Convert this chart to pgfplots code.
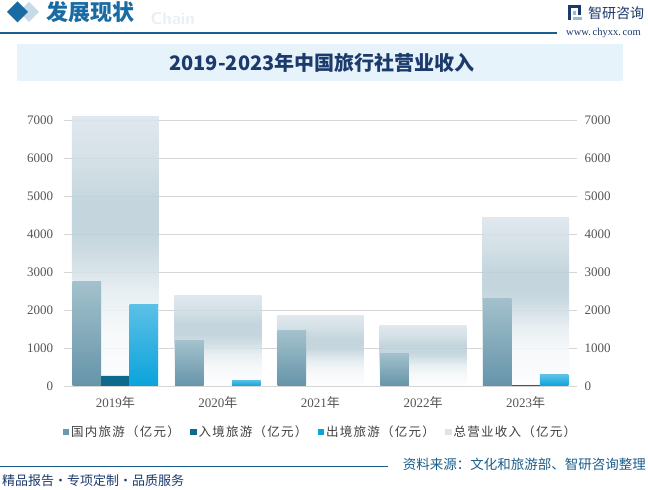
\documentclass[border=0pt]{standalone}
\usepackage{fontspec}
\usepackage{pgfplots}
\pgfplotsset{compat=1.18}
\setmainfont{Liberation Serif}
\newfontfamily\cjk{Noto Sans CJK SC}
\newfontfamily\cjkls{Noto Sans CJK SC}[LetterSpace=10]
\definecolor{navy}{HTML}{1C3A6B}
\definecolor{hdrblue}{HTML}{1A6BA3}
\definecolor{linblue}{HTML}{1B5E8C}
\definecolor{boxblue}{HTML}{E6F3FB}
\definecolor{totT}{HTML}{DCE5EC}
\definecolor{totM}{HTML}{BCD0D9}
\definecolor{domT}{HTML}{A3C1CC}
\definecolor{domB}{HTML}{6594A9}
\definecolor{domL}{HTML}{6A9AB0}
\definecolor{inb}{HTML}{0E6A8C}
\definecolor{outT}{HTML}{5BC0E6}
\definecolor{outB}{HTML}{0AA3DC}
\definecolor{gridc}{HTML}{D6D6D6}
\definecolor{tickc}{HTML}{555555}
\pgfdeclareverticalshading{totshade}{100bp}{color(0bp)=(white); color(25bp)=(white!97!totM); color(35bp)=(white!86!totM); color(42.5bp)=(white!62!totM); color(47.5bp)=(white!30!totM); color(51bp)=(white!10!totM); color(54bp)=(totM); color(59bp)=(totM); color(66bp)=(white!25!totM); color(75bp)=(totT); color(100bp)=(totT)}
\pgfplotsset{
  totbar/.style={ybar, forget plot, bar width=87pt, bar shift=0pt, draw=none, shading=totshade, fill opacity=0.88},
  dombar/.style={ybar, forget plot, bar width=28.5pt, bar shift=-28.5pt, draw=none, top color=domT, bottom color=domB},
  inbar/.style={ybar, forget plot, bar width=28.5pt, bar shift=0pt, draw=none, fill=inb},
  outbar/.style={ybar, forget plot, bar width=28.5pt, bar shift=28.5pt, draw=none, top color=outT, bottom color=outB},
}
\begin{document}
\begin{tikzpicture}[x=1pt,y=1pt]
\path[use as bounding box] (0,0) rectangle (648,490);
\fill[white] (0,0) rectangle (648,490);
% header
\fill[hdrblue!25] (29,488) -- (39,478) -- (29,468) -- (19,478) -- cycle;
\fill[hdrblue] (17.5,488.5) -- (28,478) -- (17.5,467.5) -- (7,478) -- cycle;
\node[anchor=base west, text=hdrblue!10, font=\sffamily\bfseries\fontsize{17}{17}\selectfont] at (147,465) {Chain};
\node[anchor=west, inner sep=0, text=hdrblue, font=\cjk\bfseries\fontsize{22}{22}\selectfont] at (46,478) {发展现状};
\draw[linblue, line width=1.2pt] (0,457) -- (557,457);
% logo
\fill[navy] (568,470) rectangle (571,485);
\fill[navy] (568,482) rectangle (581,485);
\fill[navy] (578,475) rectangle (581,485);
\fill[hdrblue!45] (573,470) rectangle (582,473);
\fill[hdrblue!45] (573,475) rectangle (576,479);
\node[anchor=west, inner sep=0, text=navy, font=\cjk\fontsize{14}{14}\selectfont] at (588,477) {智研咨询};
\node[anchor=west, inner sep=0, text=navy, font=\fontsize{10.5}{11}\selectfont] at (566,457) {www.\,chyxx.\,com};
% title box
\fill[boxblue] (17,409) rectangle (623,446);
\node[text=navy, inner sep=0, font=\cjk\bfseries\fontsize{20}{20}\selectfont] at (322,427.5) {2019-2023年中国旅行社营业收入};
% footer
\draw[linblue, line width=1pt] (0,23) -- (388,23);
\node[anchor=east, inner sep=0, text=linblue, font=\cjk\fontsize{13.5}{14}\selectfont] at (646,26) {资料来源：文化和旅游部、智研咨询整理};
\node[anchor=west, inner sep=0, text=navy, font=\cjk\fontsize{13}{13}\selectfont] at (2,9) {精品报告·专项定制·品质服务};
% main axis
\begin{axis}[
  at={(64pt,104pt)}, anchor=south west, scale only axis,
  width=513pt, height=277.1pt,
  xmin=-0.5, xmax=4.5, ymin=0, ymax=7300,
  axis y line*=left, axis x line*=bottom,
  y axis line style={draw=none},
  x axis line style={gridc, line width=0.9pt},
  ytick={0,1000,...,7000}, ytick style={draw=none},
  xtick={0,1,2,3,4}, xtick style={draw=none},
  minor xtick={-0.5,0.5,1.5,2.5,3.5,4.5},
  minor tick length=5pt, tick align=outside,
  minor x tick style={gridc, line width=0.9pt},
  xticklabels={{2019\cjk 年},{2020\cjk 年},{2021\cjk 年},{2022\cjk 年},{2023\cjk 年}},
  ymajorgrids, grid style={gridc, line width=0.8pt},
  scaled y ticks=false,
  /pgf/number format/assume math mode=true,
  /pgf/number format/1000 sep={},
  ticklabel style={text=tickc, font=\fontsize{13}{15}\selectfont},
  yticklabel style={xshift=-3pt},
  xticklabel style={yshift=-3pt},
  legend columns=4,
  legend style={at={(axis description cs:-0.003,-0.166)}, anchor=west, draw=none, fill=none,
    font=\cjkls\fontsize{12.5}{14}\selectfont, text=black!75, column sep=0pt, inner sep=0pt},
  legend image code/.code={\fill[#1, draw=none] (0pt,-3.2pt) rectangle (6.5pt,3.2pt);},
]
% total revenue (one plot per bar so each bar gets its own gradient)
\addplot[totbar] coordinates {(0,7103)};
\addplot[totbar] coordinates {(1,2389)};
\addplot[totbar] coordinates {(2,1845)};
\addplot[totbar] coordinates {(3,1581)};
\addplot[totbar] coordinates {(4,4427)};
% domestic
\addplot[dombar] coordinates {(0,2740)};
\addplot[dombar] coordinates {(1,1186)};
\addplot[dombar] coordinates {(2,1449)};
\addplot[dombar] coordinates {(3,869)};
\addplot[dombar] coordinates {(4,2318)};
% inbound
\addplot[inbar] coordinates {(0,265) (4,26)};
% outbound
\addplot[outbar] coordinates {(0,2135)};
\addplot[outbar] coordinates {(1,158)};
\addplot[outbar] coordinates {(4,290)};
\addlegendimage{fill=domL}
\addlegendentry{\makebox[117pt][l]{国内旅游（亿元）}}
\addlegendimage{fill=inb}
\addlegendentry{\makebox[117pt][l]{入境旅游（亿元）}}
\addlegendimage{fill=outB}
\addlegendentry{\makebox[117pt][l]{出境旅游（亿元）}}
\addlegendimage{fill=totT}
\addlegendentry{\makebox[117pt][l]{总营业收入（亿元）}}
\end{axis}
% right axis
\begin{axis}[
  at={(64pt,104pt)}, anchor=south west, scale only axis,
  width=513pt, height=277.1pt,
  xmin=-0.5, xmax=4.5, ymin=0, ymax=7300,
  axis y line*=right, axis x line=none,
  y axis line style={draw=none},
  ytick={0,1000,...,7000}, ytick style={draw=none},
  scaled y ticks=false,
  /pgf/number format/assume math mode=true,
  /pgf/number format/1000 sep={},
  ticklabel style={text=tickc, font=\fontsize{13}{15}\selectfont},
  yticklabel style={xshift=4pt},
]
\end{axis}
\end{tikzpicture}
\end{document}
